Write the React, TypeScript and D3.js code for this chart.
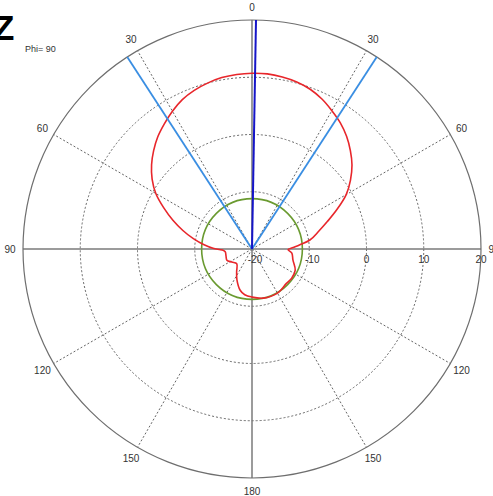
import React from 'react';
import * as d3 from 'd3';

// angle labels, clockwise from top every 30 deg
const angleLabels = ['0', '30', '60', '90', '120', '150', '180', '150', '120', '90', '60', '30'];
const radialTicks = [-20, -10, 0, 10, 20];

// red pattern: angle (deg, clockwise from top) and level
const redAngles = [
  -180, -171, -164, -154, -146, -134, -123, -114, -105, -96, -92, -89, -85, -80, -75, -70, -65, -60,
  -55, -50, -45, -40, -35, -30, -25, -20, -15, -10, -5, 0, 5, 10, 15, 20, 25, 30, 35, 40, 45, 50,
  55, 60, 65, 70, 75, 81, 85, 88, 91, 96, 105, 116, 126, 135, 150, 167,
];
const redValues = [
  -11.6, -11.9, -12.5, -14.0, -15.2, -16.3, -15.8, -15.2, -15.3, -15.3, -14.8, -13.2, -11.6, -9.6, -7.5, -5.3, -3.0, -0.6,
  1.3, 2.9, 4.3, 5.6, 6.7, 7.8, 8.8, 9.5, 10.0, 10.4, 10.6, 10.7, 10.7, 10.5, 10.2, 9.7, 8.9, 7.9, 6.9, 5.7, 4.3, 2.8,
  1.0, -1.0, -3.6, -6.0, -7.9, -9.7, -11.6, -12.8, -13.7, -13.0, -12.6, -11.6, -11.4, -11.5, -11.1, -11.2,
];

// green reference level
const greenLevel = -11.2;
// beam markers: light blue pair and dark blue main direction
const beamAngles = [-33, 33];
const mainAngle = 1;

const W = 493;
const H = 496;
const cx = 252;
const cy = 249;
const R = 229;

export default function App() {
  const r = d3.scaleLinear().domain([-20, 20]).range([0, R]);
  const rad = (deg: number) => (deg * Math.PI) / 180;
  const px = (deg: number, rr: number) => rr * Math.sin(rad(deg));
  const py = (deg: number, rr: number) => -rr * Math.cos(rad(deg));

  const redPts: [number, number][] = redAngles.map((a, i) => [rad(a), r(redValues[i])]);
  const redPath = d3.lineRadial().curve(d3.curveCatmullRomClosed.alpha(0.5))(redPts) || '';

  const gridLevels = radialTicks.slice(1, -1);
  const font = 'Liberation Sans, Arial, sans-serif';

  return (
    <svg width={W} height={H} style={{ position: 'absolute', left: 0, top: 0, background: '#fff' }}>
      <text x={-7} y={40} fontFamily={font} fontWeight="bold" fontSize={35} fill="#000">Z</text>
      <text x={25} y={52} fontFamily={font} fontSize={9} fill="#333">Phi= 90</text>
      <g transform={`translate(${cx},${cy})`}>
        {gridLevels.map((v) => (
          <circle key={v} r={r(v)} fill="none" stroke="#666" strokeWidth={1} strokeDasharray="2,2" />
        ))}
        {angleLabels.map((_, i) => {
          const a = i * 30;
          const solid = a % 90 === 0;
          return (
            <line
              key={'s' + i}
              x1={0}
              y1={0}
              x2={px(a, R)}
              y2={py(a, R)}
              stroke={solid ? '#7a7a7a' : '#666'}
              strokeWidth={solid ? 1.5 : 1}
              strokeDasharray={solid ? undefined : '2,2'}
            />
          );
        })}
        <circle r={R} fill="none" stroke="#6e6e6e" strokeWidth={1.2} />
        {angleLabels.map((t, i) => {
          const a = i * 30;
          return (
            <text
              key={'l' + i}
              x={px(a, 242)}
              y={py(a, 242)}
              textAnchor="middle"
              dominantBaseline="central"
              fontFamily={font}
              fontSize={10}
              fill="#333"
            >
              {t}
            </text>
          );
        })}
        {radialTicks.map((v) => (
          <text
            key={'r' + v}
            x={r(v) + (v < 0 ? 3 : 0)}
            y={14}
            textAnchor="middle"
            fontFamily={font}
            fontSize={10}
            fill="#333"
          >
            {v}
          </text>
        ))}
        <circle r={r(greenLevel)} fill="none" stroke="#6a9a30" strokeWidth={1.6} />
        <path d={redPath} fill="none" stroke="#e8262b" strokeWidth={1.6} />
        {beamAngles.map((a) => (
          <line key={'b' + a} x1={0} y1={0} x2={px(a, R)} y2={py(a, R)} stroke="#3a8ee2" strokeWidth={1.8} />
        ))}
        <line x1={0} y1={0} x2={px(mainAngle, R)} y2={py(mainAngle, R)} stroke="#1515c8" strokeWidth={2} />
      </g>
    </svg>
  );
}
